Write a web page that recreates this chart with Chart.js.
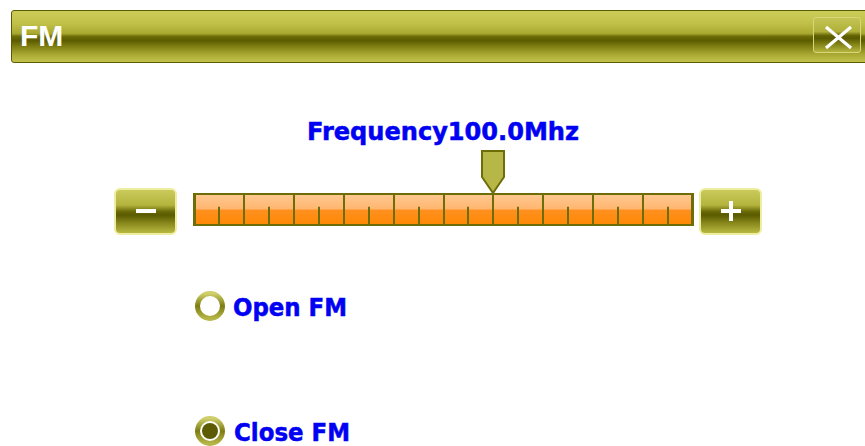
<!DOCTYPE html>
<html>
<head>
<meta charset="utf-8">
<script src="https://cdn.jsdelivr.net/npm/chart.js@4"></script>
<style>
  html, body { margin:0; padding:0; background:#fff; width:865px; height:446px; overflow:hidden; position:relative; }
  .abs { position:absolute; }
  #titlebar { left:11px; top:10px; width:870px; height:51px; border:1px solid #5a5a00; border-radius:3px;
    background:linear-gradient(to bottom, #cccc5a 0%, #c0c048 25%, #a9a930 44%, #6c6c08 50%, #5c5c00 58%, #7a7a10 68%, #a8a832 85%, #c2c24c 100%); }
  #titletext { left:20px; top:21px; font:bold 30px "Liberation Sans", Arial, sans-serif; color:#fff; line-height:30px; }
  #closebtn { left:813px; top:17px; width:46px; height:34px; border:1px solid #d6d67a; border-radius:3px;
    background:linear-gradient(to bottom, #c4c454 0%, #b0b03a 40%, #626204 52%, #5a5a00 60%, #8a8a1c 80%, #b4b43e 100%); }
  .btn { width:59px; height:43px; border:2px solid #eeeea2; border-radius:6px;
    background:linear-gradient(to bottom, #caca5c 0%, #b4b43e 35%, #6a6a08 50%, #5a5a00 58%, #8a8a1e 78%, #b8b842 100%); }
  .label { font:bold 24px "DejaVu Sans", Verdana, sans-serif; color:#0000f2; line-height:24px; white-space:nowrap;
    transform-origin:0 0; -webkit-text-stroke:0.5px #0000f2; }
  #chartbox { left:188px; top:140px; width:512px; height:92px; }
</style>
</head>
<body>
<div id="titlebar" class="abs"></div>
<div id="titletext" class="abs">FM</div>
<div id="closebtn" class="abs">
  <svg width="46" height="34" style="position:absolute;left:0;top:0">
    <line x1="12" y1="9" x2="37" y2="30" stroke="#fff" stroke-width="3.2"/>
    <line x1="37" y1="9" x2="12" y2="30" stroke="#fff" stroke-width="3.2"/>
  </svg>
</div>

<div id="minusbtn" class="abs btn" style="left:114px;top:188px;">
  <div class="abs" style="left:20px;top:19px;width:20px;height:4px;background:#fff;"></div>
</div>
<div id="plusbtn" class="abs btn" style="left:699px;top:188px;">
  <div class="abs" style="left:20px;top:19px;width:20px;height:4px;background:#fff;"></div>
  <div class="abs" style="left:28px;top:11px;width:4px;height:20px;background:#fff;"></div>
</div>

<div id="freqlabel" class="abs label" style="left:307px;top:120px;"></div>

<div id="chartbox" class="abs"><canvas id="c" width="512" height="92"></canvas></div>

<svg class="abs" style="left:190px;top:286px" width="40" height="40">
  <defs>
    <linearGradient id="ringG" x1="0" y1="0" x2="0" y2="1">
      <stop offset="0" stop-color="#cfcf6c"/>
      <stop offset="0.5" stop-color="#7c7c10"/>
      <stop offset="1" stop-color="#b6b648"/>
    </linearGradient>
  </defs>
  <circle cx="20" cy="20" r="12.5" fill="#fff" stroke="url(#ringG)" stroke-width="5"/>
</svg>
<div id="radio0" class="abs label" style="left:233px;top:296px;"></div>

<svg class="abs" style="left:190px;top:411px" width="40" height="40">
  <defs>
    <linearGradient id="ringG2" x1="0" y1="0" x2="0" y2="1">
      <stop offset="0" stop-color="#cfcf6c"/>
      <stop offset="0.5" stop-color="#7c7c10"/>
      <stop offset="1" stop-color="#b6b648"/>
    </linearGradient>
  </defs>
  <circle cx="20" cy="20" r="12.5" fill="#fff" stroke="url(#ringG2)" stroke-width="5"/>
  <circle cx="20" cy="20" r="8" fill="#5c5c04"/>
</svg>
<div id="radio1" class="abs label" style="left:234px;top:421px;"></div>

<script>
// ---- data ----
const bandRange = [88, 108];                       // MHz, ends of the dial
const majorTicks = [88, 90, 92, 94, 96, 98, 100, 102, 104, 106, 108];
const minorTicks = [89, 91, 93, 95, 97, 99, 101, 103, 105, 107];
const frequency = [100.0];                          // current tuned frequency
const radioLabels = ['Open FM', 'Close FM'];
const labelWidths = [272, 114, 116];                // text fitted widths (layout)

// ---- texts ----
document.getElementById('freqlabel').textContent = 'Frequency' + frequency[0].toFixed(1) + 'Mhz';
document.getElementById('radio0').textContent = radioLabels[0];
document.getElementById('radio1').textContent = radioLabels[1];
function fit(id, w) {
  const el = document.getElementById(id);
  el.style.display = 'inline-block';
  const nat = el.getBoundingClientRect().width;
  if (nat > 0) el.style.transform = 'scaleX(' + (w / nat) + ')';
}
fit('freqlabel', labelWidths[0]);
fit('radio0', labelWidths[1]);
fit('radio1', labelWidths[2]);

// ---- dial chart ----
const OLIVE = '#6e6e08';
const dialPlugin = {
  id: 'dial',
  afterDatasetsDraw(chart) {
    const ctx = chart.ctx, xs = chart.scales.x, a = chart.chartArea;
    ctx.save();
    ctx.strokeStyle = OLIVE;
    ctx.lineWidth = 2;
    const mid = a.top + (a.bottom - a.top) * 0.42;
    minorTicks.forEach(v => {
      const x = Math.round(xs.getPixelForValue(v));
      ctx.beginPath(); ctx.moveTo(x, mid); ctx.lineTo(x, a.bottom); ctx.stroke();
    });
    majorTicks.forEach(v => {
      const x = Math.round(xs.getPixelForValue(v));
      ctx.beginPath(); ctx.moveTo(x, a.top); ctx.lineTo(x, a.bottom); ctx.stroke();
    });
    ctx.strokeRect(a.left + 1, a.top + 1, a.right - a.left - 2, a.bottom - a.top - 2);
    // pointer
    const px = Math.round(xs.getPixelForValue(frequency[0]));
    const top = a.top - 42, hw = 11, rb = a.top - 16, tip = a.top;
    ctx.beginPath();
    ctx.moveTo(px - hw, top);
    ctx.lineTo(px + hw, top);
    ctx.lineTo(px + hw, rb);
    ctx.lineTo(px, tip);
    ctx.lineTo(px - hw, rb);
    ctx.closePath();
    ctx.fillStyle = '#b7b748';
    ctx.fill();
    ctx.lineJoin = 'miter';
    ctx.stroke();
    ctx.restore();
  }
};

function trackFill(c) {
  const a = c.chart.chartArea;
  if (!a) return '#ff9a30';
  const g = c.chart.ctx.createLinearGradient(0, a.top, 0, a.bottom);
  g.addColorStop(0, '#ffca94');
  g.addColorStop(0.48, '#ffb670');
  g.addColorStop(0.52, '#ff9020');
  g.addColorStop(1, '#ff8800');
  return g;
}

new Chart(document.getElementById('c'), {
  type: 'bar',
  data: {
    labels: ['FM'],
    datasets: [{
      data: [[bandRange[0], bandRange[1]]],
      backgroundColor: trackFill,
      borderWidth: 0,
      barPercentage: 1,
      categoryPercentage: 1
    }]
  },
  options: {
    indexAxis: 'y',
    responsive: false,
    animation: false,
    events: [],
    layout: { padding: { left: 6, right: 7, top: 53, bottom: 6 } },
    plugins: { legend: { display: false }, tooltip: { enabled: false }, title: { display: false } },
    scales: {
      x: { type: 'linear', min: bandRange[0], max: bandRange[1], display: false },
      y: { display: false }
    }
  },
  plugins: [dialPlugin]
});
</script>
</body>
</html>
